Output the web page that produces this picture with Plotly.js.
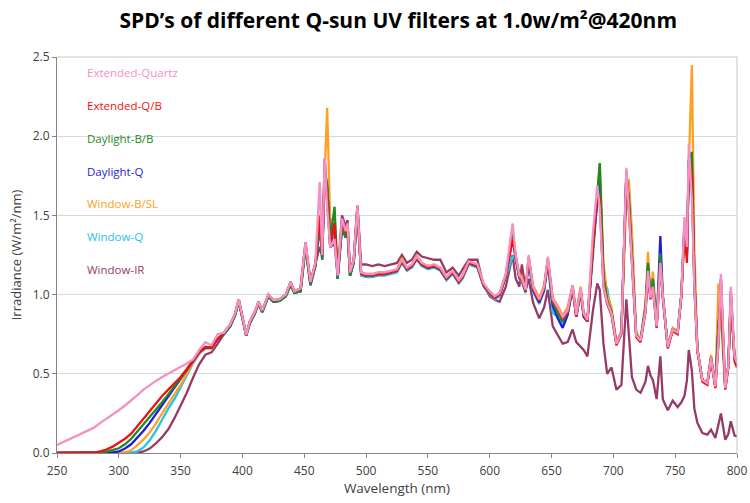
<!DOCTYPE html>
<html>
<head>
<meta charset="utf-8">
<script src="https://cdn.plot.ly/plotly-3.0.1.min.js"></script>
<style>
body{margin:0;background:#fff;}
#divGraph{width:750px;height:503px;}
</style>
</head>
<body>
<div id="divGraph"></div>
<script>
// wavelength (nm)
var wl = [250,260,270,280,285,290,295,300,305,310,315,320,325,330,335,340,345,350,355,360,365,370,375,380,
385,390,394,397,400,403,406,410,413,416,421,425,430,435,439,442,447,451,455,459,462.5,464.5,466.5,468.5,471,474.5,477,480.5,483.5,485,487,490,493,496,500,505,510,515,520,525,529,533,537,541,545,550,555,560,565,570,575,578,583,590,595,600,
604,608,613,618.5,621,624,626,629,631.5,635,640,644,647,651,655,659,663,667,670,673.5,676,679,683.5,687,689,692,695,698.5,702.5,706.5,710.5,712.5,715,718.5,722,726,728,730,732,735,738,740,744,748,752,755,757.5,759.5,761,763.5,765.5,768,772,776,779,782.5,785,787,790.5,793,795,798,800];

var extQuartz = [0.05,0.085,0.12,0.16,0.19,0.215,0.245,0.27,0.30,0.33,0.365,0.40,0.43,0.455,0.48,0.50,0.52,0.54,0.565,0.59,0.65,0.70,0.68,0.75,
0.76,0.81,0.88,0.97,0.86,0.745,0.83,0.89,0.955,0.90,1.00,0.965,0.97,1.00,1.08,1.02,1.04,1.33,1.08,1.20,1.71,1.25,1.86,1.55,1.30,1.35,1.12,1.48,1.40,1.45,1.14,1.22,1.56,1.14,1.13,1.13,1.14,1.14,1.15,1.16,1.22,1.17,1.19,1.24,1.20,1.18,1.19,1.17,1.11,1.15,1.09,1.12,1.21,1.19,1.07,1.02,
0.99,1.01,1.13,1.45,1.25,1.12,1.10,1.03,1.25,1.05,0.97,1.05,1.24,0.97,0.92,0.86,0.90,1.06,0.87,1.04,0.88,0.84,1.39,1.69,1.55,1.05,0.95,0.88,0.69,0.76,1.80,1.55,1.22,0.74,0.71,0.90,1.15,0.98,1.05,0.80,1.20,0.99,0.67,0.78,0.76,1.00,1.49,1.30,1.95,1.60,1.05,0.65,0.46,0.44,0.60,0.42,0.70,1.13,0.41,0.55,1.05,0.61,0.57];

var extQB = [0,0,0,0.003,0.01,0.022,0.04,0.063,0.09,0.122,0.17,0.22,0.265,0.31,0.36,0.40,0.44,0.48,0.53,0.585,0.635,0.67,0.665,0.72,
0.76,0.81,0.88,0.97,0.86,0.745,0.83,0.89,0.955,0.90,1.00,0.965,0.97,1.00,1.08,1.02,1.04,1.33,1.08,1.20,1.50,1.25,1.80,1.62,1.30,1.45,1.12,1.46,1.39,1.44,1.14,1.22,1.56,1.13,1.12,1.12,1.13,1.13,1.14,1.15,1.21,1.16,1.18,1.23,1.19,1.17,1.18,1.16,1.10,1.14,1.08,1.11,1.20,1.18,1.06,1.01,
0.98,1.00,1.12,1.345,1.24,1.11,1.09,1.02,1.23,1.04,0.96,1.04,1.22,0.96,0.91,0.85,0.89,1.05,0.86,1.03,0.87,0.83,1.29,1.65,1.60,1.05,0.94,0.87,0.68,0.75,1.78,1.55,1.21,0.73,0.70,0.89,1.11,0.97,1.04,0.79,1.19,0.98,0.66,0.77,0.75,0.99,1.45,1.20,1.85,1.75,1.05,0.64,0.45,0.43,0.59,0.41,0.69,1.10,0.40,0.54,1.02,0.58,0.54];

var dayBB = [0,0,0,0,0.002,0.008,0.017,0.03,0.055,0.09,0.135,0.18,0.225,0.27,0.32,0.37,0.42,0.47,0.525,0.585,0.64,0.67,0.665,0.72,
0.75,0.80,0.87,0.96,0.85,0.74,0.82,0.88,0.945,0.89,0.99,0.955,0.96,0.99,1.06,1.01,1.02,1.30,1.06,1.18,1.45,1.22,1.78,1.70,1.35,1.555,1.10,1.43,1.36,1.40,1.12,1.20,1.54,1.13,1.12,1.12,1.13,1.13,1.14,1.15,1.21,1.16,1.18,1.23,1.19,1.17,1.18,1.16,1.10,1.14,1.08,1.11,1.20,1.18,1.06,1.01,
0.98,1.00,1.12,1.38,1.24,1.11,1.09,1.02,1.23,1.04,0.96,1.04,1.22,0.95,0.88,0.83,0.89,1.05,0.86,1.03,0.87,0.83,1.30,1.62,1.83,1.12,0.96,0.89,0.69,0.76,1.75,1.60,1.25,0.74,0.71,0.92,1.20,0.98,1.10,0.80,1.26,0.99,0.67,0.78,0.76,1.00,1.40,1.25,1.85,1.90,1.10,0.65,0.46,0.44,0.60,0.42,0.80,1.00,0.41,0.55,0.98,0.60,0.57];

var dayQ = [0,0,0,0,0,0.001,0.004,0.01,0.028,0.055,0.095,0.14,0.19,0.245,0.30,0.355,0.41,0.465,0.52,0.58,0.635,0.665,0.665,0.72,
0.75,0.80,0.87,0.96,0.85,0.74,0.82,0.88,0.945,0.89,0.99,0.955,0.96,0.99,1.06,1.01,1.02,1.30,1.06,1.18,1.45,1.22,1.76,1.68,1.33,1.45,1.10,1.42,1.36,1.40,1.12,1.20,1.53,1.13,1.12,1.12,1.13,1.13,1.14,1.15,1.21,1.16,1.18,1.23,1.19,1.17,1.18,1.16,1.10,1.14,1.08,1.11,1.20,1.18,1.06,1.01,
0.98,1.00,1.12,1.36,1.23,1.11,1.09,1.02,1.22,1.03,0.95,1.03,1.21,0.93,0.85,0.79,0.87,1.04,0.86,1.02,0.86,0.83,1.30,1.62,1.75,1.10,0.96,0.89,0.69,0.76,1.75,1.60,1.25,0.74,0.71,0.92,1.18,0.98,1.08,0.80,1.37,0.99,0.67,0.78,0.76,1.00,1.40,1.25,1.85,1.80,1.10,0.65,0.46,0.44,0.60,0.42,0.80,1.00,0.41,0.55,0.98,0.60,0.57];

var winBSL = [0,0,0,0,0,0,0,0.001,0.005,0.017,0.05,0.085,0.13,0.185,0.25,0.31,0.365,0.43,0.50,0.57,0.63,0.66,0.66,0.72,
0.76,0.81,0.88,0.97,0.86,0.745,0.83,0.89,0.955,0.90,1.00,0.965,0.97,1.00,1.07,1.02,1.03,1.32,1.07,1.19,1.50,1.25,1.75,2.18,1.45,1.50,1.12,1.44,1.38,1.42,1.14,1.22,1.55,1.14,1.13,1.13,1.14,1.14,1.15,1.16,1.23,1.17,1.19,1.25,1.20,1.18,1.19,1.17,1.11,1.15,1.09,1.12,1.21,1.19,1.07,1.02,
0.99,1.01,1.13,1.40,1.25,1.13,1.11,1.04,1.24,1.06,0.98,1.06,1.23,0.98,0.93,0.87,0.92,1.06,0.89,1.05,0.89,0.85,1.35,1.60,1.83,1.20,1.00,0.92,0.70,0.77,1.60,1.73,1.40,0.76,0.72,0.95,1.27,1.00,1.145,0.81,1.20,1.00,0.68,0.79,0.77,1.00,1.40,1.30,1.80,2.45,1.30,0.66,0.46,0.45,0.62,0.43,1.07,0.85,0.42,0.56,0.95,0.62,0.58];

var winQ = [0,0,0,0,0,0,0,0,0,0.002,0.01,0.035,0.08,0.14,0.21,0.28,0.34,0.415,0.49,0.565,0.625,0.66,0.66,0.72,
0.75,0.80,0.87,0.96,0.85,0.74,0.82,0.88,0.945,0.89,0.99,0.955,0.96,0.99,1.07,1.01,1.03,1.31,1.07,1.19,1.45,1.24,1.80,1.60,1.30,1.40,1.10,1.44,1.37,1.42,1.12,1.20,1.53,1.12,1.11,1.11,1.12,1.12,1.13,1.14,1.20,1.15,1.17,1.22,1.18,1.16,1.17,1.15,1.09,1.13,1.07,1.10,1.19,1.17,1.05,1.00,
0.97,0.99,1.11,1.24,1.22,1.10,1.08,1.01,1.21,1.02,0.94,1.02,1.20,0.885,0.86,0.82,0.88,1.04,0.86,1.02,0.86,0.83,1.24,1.62,1.60,1.07,1.04,0.88,0.69,0.76,1.75,1.55,1.22,0.74,0.71,0.90,1.15,0.98,1.05,0.80,1.20,0.99,0.67,0.78,0.76,1.00,1.45,1.25,1.80,1.70,1.05,0.65,0.46,0.44,0.60,0.42,0.70,1.10,0.41,0.55,1.02,0.60,0.58];

var winIR = [0,0,0,0,0,0,0,0,0,0,0.002,0.01,0.028,0.06,0.10,0.15,0.22,0.30,0.38,0.475,0.56,0.62,0.635,0.69,
0.75,0.80,0.87,0.96,0.85,0.75,0.83,0.89,0.95,0.90,0.99,0.96,0.97,1.00,1.08,1.02,1.04,1.32,1.08,1.20,1.30,1.25,1.86,1.62,1.30,1.32,1.12,1.50,1.43,1.47,1.15,1.22,1.56,1.19,1.19,1.18,1.19,1.18,1.19,1.20,1.25,1.20,1.22,1.27,1.24,1.23,1.22,1.22,1.14,1.17,1.12,1.16,1.22,1.22,1.06,0.99,
0.967,0.955,1.05,1.25,1.10,1.05,1.19,1.03,1.10,0.95,0.85,0.92,1.03,0.80,0.74,0.69,0.70,0.78,0.70,0.67,0.65,0.61,0.90,1.07,1.03,0.69,0.50,0.54,0.40,0.43,0.97,0.75,0.48,0.40,0.38,0.45,0.55,0.49,0.46,0.34,0.61,0.34,0.27,0.33,0.29,0.32,0.36,0.46,0.65,0.52,0.28,0.19,0.126,0.116,0.147,0.095,0.18,0.25,0.084,0.12,0.20,0.11,0.105];

var names = ['Extended-Quartz','Extended-Q/B','Daylight-B/B','Daylight-Q','Window-B/SL','Window-Q','Window-IR'];
var colors = ['#f590c4','#f01010','#1f8a1f','#1c1ce0','#ffa024','#22c4ec','#963a68'];
var series = [extQuartz,extQB,dayBB,dayQ,winBSL,winQ,winIR];

// drawing order, bottom to top
var order = [6,5,4,3,2,1,0];
var data = [];
for(var k=0;k<order.length;k++){
  var i = order[k];
  data.push({
    x: wl,
    y: series[i],
    type: 'scatter',
    mode: 'lines',
    name: names[i],
    line: {color: colors[i], width: 2.3},
    hoverinfo: 'skip'
  });
}

// text legend inside plot
var ann = [];
for(var i=0;i<names.length;i++){
  ann.push({
    xref: 'paper', yref: 'paper',
    x: 0.041, y: 0.962 - i*0.0833,
    xanchor: 'left', yanchor: 'middle',
    text: names[i], showarrow: false,
    font: {family: 'Open Sans, sans-serif', size: 11.5, color: colors[i]}
  });
}

var layout = {
  width: 750, height: 503,
  margin: {l: 57, r: 13, t: 57, b: 50},
  paper_bgcolor: '#fff', plot_bgcolor: '#fff',
  showlegend: false,
  title: {
    text: '<b>SPD’s of different Q-sun UV filters at 1.0w/m²@420nm</b>',
    font: {family: 'Open Sans, sans-serif', size: 21, color: '#000'},
    x: 0.531, xanchor: 'center', y: 0.958, yanchor: 'middle'
  },
  xaxis: {
    range: [250, 800], dtick: 50, tick0: 250,
    showgrid: false, zeroline: false,
    showline: true, linecolor: '#868686', linewidth: 1,
    ticks: 'outside', ticklen: 4, tickcolor: '#868686',
    ticklabelstandoff: 3,
    tickfont: {family: 'Open Sans, sans-serif', size: 12, color: '#404040'},
    title: {text: 'Wavelength (nm)', standoff: 4,
      font: {family: 'Open Sans, sans-serif', size: 13.5, color: '#404040'}}
  },
  yaxis: {
    range: [0, 2.5], dtick: 0.5, tickformat: '.1f',
    showgrid: true, gridcolor: '#d9d9d9', gridwidth: 1, zeroline: false,
    showline: true, linecolor: '#868686', linewidth: 1,
    ticks: 'outside', ticklen: 4, tickcolor: '#868686',
    tickfont: {family: 'Open Sans, sans-serif', size: 12, color: '#404040'},
    title: {text: 'Irradiance (W/m²/nm)', standoff: 8,
      font: {family: 'Open Sans, sans-serif', size: 13, color: '#404040'}}
  },
  shapes: [
    // frame top and right
    {type: 'line', xref: 'paper', yref: 'paper', x0: 0, x1: 1, y0: 1, y1: 1, line: {color: '#c6c6c6', width: 1}},
    {type: 'line', xref: 'paper', yref: 'paper', x0: 1, x1: 1, y0: 0, y1: 1, line: {color: '#c6c6c6', width: 1}},
    // legend background
    {type: 'rect', xref: 'paper', yref: 'paper', x0: 0.034, x1: 0.237, y0: 0.39, y1: 0.99,
      fillcolor: '#fff', line: {width: 0}, layer: 'between'}
  ],
  annotations: ann
};

Plotly.newPlot('divGraph', data, layout, {displayModeBar: false, staticPlot: true});
</script>
</body>
</html>
